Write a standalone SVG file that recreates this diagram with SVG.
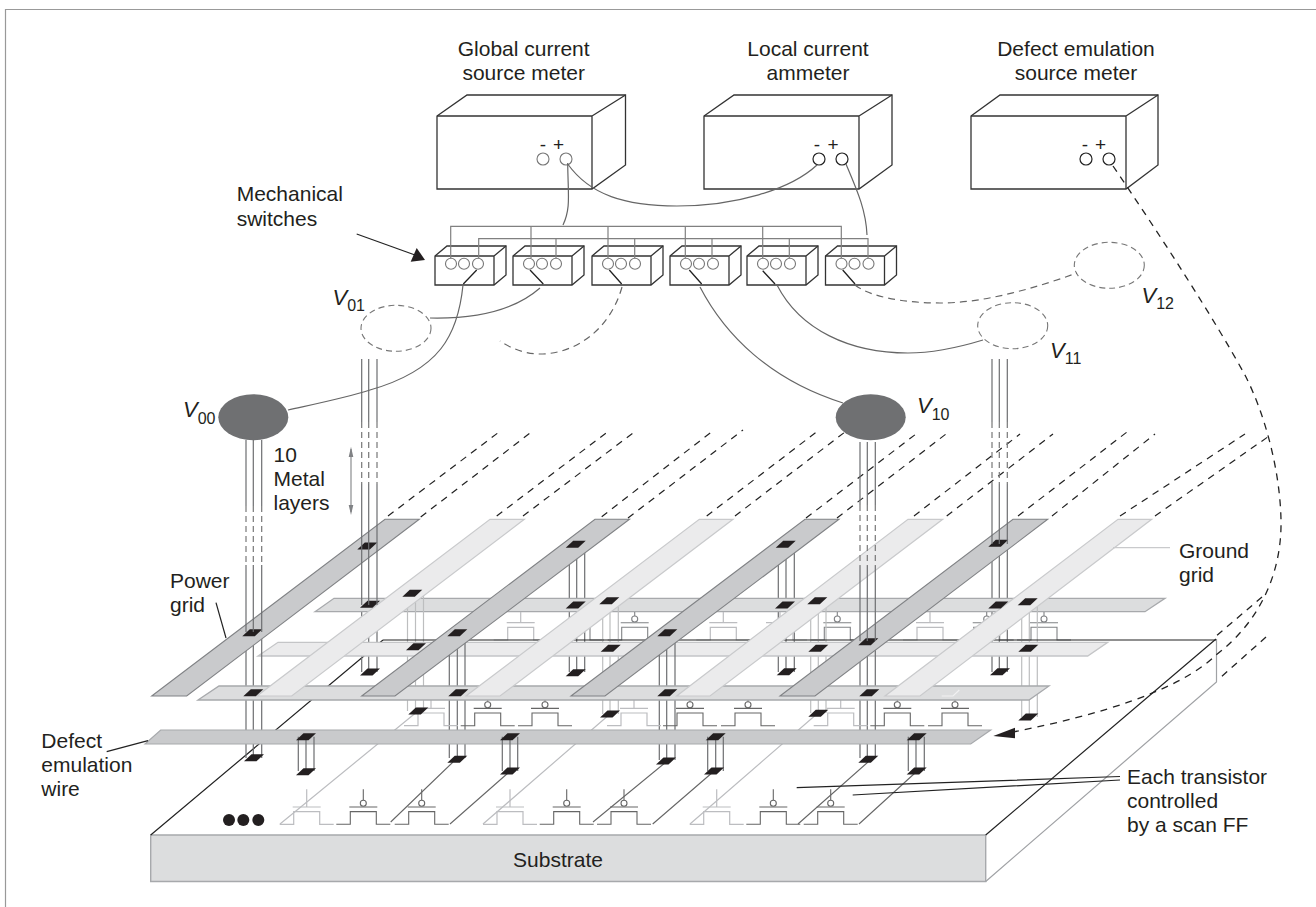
<svg xmlns="http://www.w3.org/2000/svg" xmlns:xlink="http://www.w3.org/1999/xlink" width="1316" height="907" viewBox="0 0 1316 907">
<style>
text{font-family:"Liberation Sans",Arial,sans-serif;font-size:21px;fill:#231f20}
.i{font-style:italic;font-size:22px}
.s{font-size:16px;font-style:normal}
.pm{text-anchor:middle}
.sg{font-size:19px;text-anchor:middle}
.box{fill:#fff;stroke:#333;stroke-width:1.3}
.ln{fill:none;stroke:#333;stroke-width:1.3}
.term{fill:none;stroke:#777;stroke-width:1.1}
.termk{fill:none;stroke:#222;stroke-width:1.2}
.wire{fill:none;stroke:#666;stroke-width:1.2}
.wd{fill:none;stroke:#666;stroke-width:1.2;stroke-dasharray:7 5}
.bus{fill:none;stroke:#808080;stroke-width:1.2}
.lev{fill:none;stroke:#222;stroke-width:1.3}
.via{fill:none;stroke:#6d6e71;stroke-width:1.2}
.vd{fill:none;stroke:#777;stroke-width:1.2;stroke-dasharray:6 4}
.gv{fill:none;stroke:#bdbebf;stroke-width:1.2}
.dg{fill:none;stroke:#222;stroke-width:1.2;stroke-dasharray:7 6}
.pw{fill:#c9cacc;stroke:#808285;stroke-width:1.1}
.gn{fill:#ebebec;stroke:#c9cacc;stroke-width:1.2}
.h1{fill:#dcddde;stroke:#a7a9ac;stroke-width:1.3}
.h2{fill:#ebebec;stroke:#c4c5c7;stroke-width:1.3}
.h4{fill:#c9cacc;stroke:#a7a9ac;stroke-width:1.2}
.vv{fill:#6f7072;stroke:none}
.vo{fill:none;stroke:#777;stroke-width:1.1;stroke-dasharray:6 4}
.D{fill:none;stroke:#666;stroke-width:1.1}
.M{fill:none;stroke:#808285;stroke-width:1.1}
.L{fill:none;stroke:#bcbdc0;stroke-width:1.2}
.k{fill:none;stroke:#222;stroke-width:1.2}
.t{fill:#fff}
</style>
<defs>
<path id="pad" d="M-10,3.5L-2.5,-3.5H10L2.5,3.5Z" fill="#231f20"/>
<g id="swb">
<path class="box" d="M0,0L12,-10H71V19L59,29H0Z"/>
<path class="ln" d="M0,0H59V29M59,0L71,-10"/>
<circle class="term" cx="16" cy="7.7" r="5.5"/>
<circle class="term" cx="29" cy="7.7" r="5.5"/>
<circle class="term" cx="43" cy="7.7" r="5.5"/>
</g>
<path id="body" d="M-27,0H-13V-12.7H13V0H27M-14,-17.3H14"/>
<g id="da"><use href="#body"/><path d="M0,-35V-24"/><circle class="t" cy="-21" r="3"/></g>
<g id="la"><use href="#body"/><path d="M0,-35V-17.3"/></g>
<g id="ds"><use href="#body"/><path d="M0,-28V-24"/><circle class="t" cy="-21" r="3"/></g>
<g id="ls"><use href="#body"/><path d="M0,-28V-17.3"/></g>
</defs>
<path id="frame" d="M5.5,907V9.5H1316" fill="none" stroke="#999" stroke-width="1.2"/>

<g id="substrate">
<path d="M150.7,835H985.7V881.5H150.7Z" fill="#dcddde" stroke="#a7a9ac" stroke-width="1.4"/>
<path d="M985.7,881.5L1216.5,682V639" fill="none" stroke="#a0a2a5" stroke-width="1.2"/>
<path class="k" d="M150.7,835L383,640M985.7,835L1216,639"/>
<text class="pm" x="558" y="867">Substrate</text>
</g>

<g id="transistors-front">
<g class="L"><path d="M280,824L418,711M483,824L610,714M690,824L818,713"/><use href="#la" x="306.7" y="824.3"/><use href="#la" x="510" y="824.3"/><use href="#la" x="716.7" y="824.3"/></g>
<g class="D"><path d="M390.7,822L453,762M450,824L508,773M593,822L666,762M652.7,824L713,772M798,824L868,762M859,824L915,773"/><use href="#da" x="363.3" y="824.3"/><use href="#da" x="421.7" y="824.3"/><use href="#da" x="566.7" y="824.3"/><use href="#da" x="624" y="824.3"/><use href="#da" x="773.3" y="824.3"/><use href="#da" x="830.7" y="824.3"/></g>
<g fill="#231f20"><circle cx="229" cy="820" r="6"/><circle cx="243.3" cy="820" r="6"/><circle cx="258.3" cy="820" r="6"/></g>
</g>

<g id="vias-lower">
<path class="via" d="M246,692V758M253.3,692V758M261.7,692V758M449.3,692V758M457.3,692V758M465,692V758M659.3,692V760M666.7,692V760M675,692V760M860,692V758M867.3,692V758M875.3,692V758"/>
<path class="via" d="M361.7,605V672M368.7,605V672M377,605V672M569.3,544V672M576.7,544V672M584.7,544V672M778.3,544V672M786,544V672M794.3,544V672M992,544V672M999.3,544V672M1007.3,544V672"/>
<g><use href="#pad" x="370" y="672"/><use href="#pad" x="575.7" y="672.7"/><use href="#pad" x="786.7" y="671.7"/><use href="#pad" x="1000" y="671.7"/>
<use href="#pad" x="254" y="757.7"/><use href="#pad" x="457.3" y="759.3"/><use href="#pad" x="666" y="761"/><use href="#pad" x="868.3" y="759.3"/></g>
</g>

<g id="grid-h1"><path class="h1" d="M315,611.7L334,598.3H1165L1145,611.7Z"/></g>

<g id="transistors-rear">
<g class="L"><use href="#ls" x="520.7" y="640"/><use href="#ls" x="723.3" y="640"/><use href="#ls" x="930" y="640"/><use href="#ls" x="780" y="640"/></g>
<g class="M"><use href="#ds" x="577" y="640"/><use href="#ds" x="634.7" y="640"/><use href="#ds" x="837.3" y="640"/><use href="#ds" x="986.7" y="640"/><use href="#ds" x="1044" y="640"/></g>
<path class="gv" d="M407.5,593V711M415.5,593V711M423.5,593V711M602.7,600V714M610,600V714M618.3,600V714M810.7,600V713M818.3,600V713M826,600V713M1021.7,601V717M1029.3,601V717M1037.3,601V717"/>
<path class="k" d="M383,640H1216"/>
</g>

<g id="grid-h2"><path class="h2" d="M258,656L278,642.3H1107.7L1087.7,656Z"/></g>

<g id="transistors-mid">
<g class="L"><use href="#ls" x="431" y="725.7"/><use href="#ls" x="634" y="725.7"/><use href="#ls" x="840.7" y="725.7"/></g>
<g class="D"><use href="#ds" x="487.7" y="725.7"/><use href="#ds" x="545" y="725.7"/><use href="#ds" x="690" y="725.7"/><use href="#ds" x="748" y="725.7"/><use href="#ds" x="897.3" y="725.7"/><use href="#ds" x="955" y="725.7"/></g>
<g><use href="#pad" x="418.3" y="711"/><use href="#pad" x="610" y="714"/><use href="#pad" x="818.3" y="713.3"/><use href="#pad" x="1028.3" y="717"/></g>
</g>

<g id="vias-mid">
<path class="via" d="M246,632V692M253.3,632V692M261.7,632V692M449.3,632V692M457.3,632V692M465,632V692M659.3,632V692M666.7,632V692M675,632V692M860,641V692M867.3,641V692M875.3,641V692"/>
</g>

<g id="grid-h3"><path class="h1" d="M198,700L219,686H1049L1029,700Z"/></g>

<g id="defect-wire">
<path class="h4" d="M145,744L160.7,730H990.7L970.7,744Z"/>
<path class="via" d="M298.3,736.7V771M306,736.7V771M314,736.7V771M502.3,736.7V771M510,736.7V771M517.7,736.7V771M707.7,736.7V771M715.7,736.7V771M723.3,736.7V771M908.3,736.7V771M916,736.7V771M924.3,736.7V771"/>
<g><use href="#pad" x="306" y="736.7"/><use href="#pad" x="306" y="771.7"/><use href="#pad" x="510" y="736.7"/><use href="#pad" x="510" y="771"/><use href="#pad" x="715.7" y="736.7"/><use href="#pad" x="714" y="771"/><use href="#pad" x="916.7" y="736.7"/><use href="#pad" x="916.7" y="771"/></g>
</g>

<g id="grid-diagonal">
<path class="pw" d="M385,519.3H419.3L186.7,696H151.7Z"/>
<path class="gn" d="M490,519.3H524.3L291.7,696H257Z"/>
<path class="pw" d="M595,519.3H629.5L395,696H361.7Z"/>
<path class="gn" d="M699.3,519.3H733L500,696H466Z"/>
<path class="pw" d="M805,519.3H839L605,696H571Z"/>
<path class="gn" d="M908,519.3H942.7L710,696H676.7Z"/>
<path class="pw" d="M1013,519.3H1047.7L815,696H780Z"/>
<path class="gn" d="M1118,519.3H1151.7L920,696H885Z"/>
<path d="M941.7,696H953L959.3,690" fill="none" stroke="#f1f1f2" stroke-width="1.2"/>
<path class="dg" d="M388,516L501.7,430M420.7,517L534,430M496.7,516L610,430M523,516L637,430M601.7,516.7L714,430M628,518L743,430M706.7,516L819,430M735,516L845,432M806,518L916,434M837,518L946,434M914,516L1020,434M946.7,516L1053,434M1018,516L1127,432M1052,516L1155,434M1120,516L1245,434M1155,516L1272,434"/>
</g>

<g id="pads">
<use href="#pad" x="367.3" y="546"/><use href="#pad" x="575.7" y="544.3"/><use href="#pad" x="785.7" y="544.3"/><use href="#pad" x="998.3" y="543.3"/>
<use href="#pad" x="252.3" y="632.7"/><use href="#pad" x="457.3" y="632.7"/><use href="#pad" x="667.3" y="632.7"/><use href="#pad" x="868.3" y="641.7"/>
<use href="#pad" x="253.3" y="692.7"/><use href="#pad" x="458.3" y="692.7"/><use href="#pad" x="667.3" y="692.7"/><use href="#pad" x="869.3" y="692.7"/>
<use href="#pad" x="370" y="604.3"/><use href="#pad" x="575.7" y="605"/><use href="#pad" x="785" y="605"/><use href="#pad" x="998.3" y="605"/>
<use href="#pad" x="412.3" y="593.3"/><use href="#pad" x="609.3" y="600.7"/><use href="#pad" x="817.3" y="600.7"/><use href="#pad" x="1027.7" y="601.7"/>
<use href="#pad" x="416" y="646.7"/><use href="#pad" x="610.7" y="648.3"/><use href="#pad" x="818.3" y="648.3"/><use href="#pad" x="1028.3" y="648.3"/>
</g>

<g id="vias-upper">
<path class="via" d="M246,440V506M253.3,440V506M261.7,440V506M246,565V632M253.3,565V632M261.7,565V632"/>
<path class="vd" d="M246,506V565M253.3,506V565M261.7,506V565"/>
<path class="via" d="M860,442V505M867.3,442V505M875.3,442V505M860,566V641M867.3,566V641M875.3,566V641"/>
<path class="vd" d="M860,505V566M867.3,505V566M875.3,505V566"/>
<path class="via" d="M361.7,359V422M368.7,359V422M377,359V422M361.7,484V605M368.7,484V605M377,484V605"/>
<path class="vd" d="M361.7,422V484M368.7,422V484M377,422V484"/>
<path class="via" d="M992,359V422M999.3,359V422M1007.3,359V422M992,484V544M999.3,484V544M1007.3,484V544"/>
<path class="vd" d="M992,422V484M999.3,422V484M1007.3,422V484"/>
</g>

<g id="meter-global"><path class="box" d="M437,116L467,95H625.5V165L592,189H437Z"/><path class="ln" d="M437,116H592V189M592,116L625.5,95"/><circle class="term" cx="543" cy="159" r="6"/><circle class="term" cx="566" cy="159" r="6"/><text class="sg" x="543" y="151">-</text><text class="sg" x="558.5" y="151">+</text><text class="pm" x="523.7" y="56">Global current</text><text class="pm" x="523.7" y="80">source meter</text></g>
<g id="meter-local"><path class="box" d="M704,116L734,95H892V165L859,189H704Z"/><path class="ln" d="M704,116H859V189M859,116L892,95"/><circle class="termk" cx="819" cy="159" r="6"/><circle class="termk" cx="842" cy="159" r="6"/><text class="sg" x="817" y="151">-</text><text class="sg" x="833" y="151">+</text><text class="pm" x="808" y="56">Local current</text><text class="pm" x="808" y="80">ammeter</text></g>
<g id="meter-defect"><path class="box" d="M971,116L1000,95H1158V165L1126,189H971Z"/><path class="ln" d="M971,116H1126V189M1126,116L1158,95"/><circle class="termk" cx="1086" cy="159" r="6"/><circle class="termk" cx="1109" cy="159" r="6"/><text class="sg" x="1085" y="151">-</text><text class="sg" x="1100.5" y="151">+</text><text class="pm" x="1076" y="56">Defect emulation</text><text class="pm" x="1076" y="80">source meter</text></g>

<g id="switch-1"><use href="#swb" x="435" y="256"/></g>
<g id="switch-2"><use href="#swb" x="513" y="256"/></g>
<g id="switch-3"><use href="#swb" x="592" y="256"/></g>
<g id="switch-4"><use href="#swb" x="670" y="256"/></g>
<g id="switch-5"><use href="#swb" x="747" y="256"/></g>
<g id="switch-6"><use href="#swb" x="825.5" y="256"/></g>

<g id="supply-v00"><ellipse class="vv" cx="253.3" cy="417.3" rx="35" ry="23"/><text class="i" x="183" y="417">V<tspan class="s" dy="7">00</tspan></text></g>
<g id="supply-v10"><ellipse class="vv" cx="870.7" cy="417.3" rx="35" ry="23"/><text class="i" x="917" y="413">V<tspan class="s" dy="7">10</tspan></text></g>
<g id="supply-v01"><ellipse class="vo" cx="396" cy="328.3" rx="35" ry="23"/><text class="i" x="332.5" y="305">V<tspan class="s" dy="6">01</tspan></text></g>
<g id="supply-v11"><ellipse class="vo" cx="1012.7" cy="325.7" rx="35" ry="23"/><text class="i" x="1050" y="358">V<tspan class="s" dy="6">11</tspan></text></g>
<g id="supply-v12"><ellipse class="vo" cx="1109.3" cy="265.3" rx="35" ry="23"/><text class="i" x="1141.5" y="302.7">V<tspan class="s" dy="6">12</tspan></text></g>

<g id="connectors">
<path class="bus" d="M450.7,258V226.3H841.3V258M531,226.3V258M608,226.3V258M685.3,226.3V258M762.7,226.3V258M478.7,258V238.7H868V258M556,238.7V258M634.7,238.7V258M712,238.7V258M789.3,238.7V258"/>
<path class="lev" d="M476.7,270L463.3,284M530,270L543.3,284M609.3,270L621.7,284M689.3,270L701.7,284M762.7,270.7L775,284M842.7,270L855,284"/>
<path class="wire" d="M567.7,163C568,195 571,208 563,225"/>
<path class="wire" d="M567.7,164C590,195 625,206 677,206C735,206 790,190 817,165"/>
<path class="wire" d="M846,164C857,190 866,210 867,235"/>
<path class="wire" d="M463,285C458,335 440,370 370,390C345,398 315,404 288,410"/>
<path class="wire" d="M540,288C515,310 475,319 430,318"/>
<path class="wd" d="M622,287C610,330 575,354 540,354C525,354 510,348 500,341"/>
<path class="wire" d="M700,287C725,335 770,380 843,403"/>
<path class="wire" d="M777,285C800,330 850,353 908,353C935,353 960,347 983,340"/>
<path class="wd" d="M855,285C870,297 905,303 940,303C985,303 1035,288 1077,273"/>
<path fill="none" stroke="#222" stroke-width="1.3" stroke-dasharray="7 6" d="M1113,166C1160,235 1215,320 1246,377C1265,415 1280,470 1281,520C1282,570 1262,620 1216,655C1180,690 1100,715 1013,732"/>
<path fill="none" stroke="#222" stroke-width="1.3" stroke-dasharray="7 6" d="M1262,597L1215,637M1266,637L1220,678"/>
<path d="M993.3,736L1015,727.7V738.3Z" fill="#231f20"/>
<path class="k" d="M356.7,234L415,255"/>
<path d="M425,260L416.7,248L410.7,261.7Z" fill="#231f20"/>
<path fill="none" stroke="#808285" stroke-width="1.1" d="M351,449V512"/>
<path d="M351,446.7L348.7,457H353.3ZM351,515L348.7,505H353.3Z" fill="#808285"/>
<path class="k" d="M216,602.7L226,638"/>
<path fill="none" stroke="#c9cacc" stroke-width="1.2" d="M1113,547.7H1170"/>
<path class="k" d="M106.7,751.7L148,740.7"/>
<path class="k" d="M796.7,787.7L1120,776.5M852.7,795L1120,780"/>
</g>

<g id="labels">
<text x="236.7" y="201">Mechanical</text><text x="236.7" y="225.7">switches</text>
<text x="273.5" y="461.7">10</text><text x="273.5" y="485.7">Metal</text><text x="273.5" y="510">layers</text>
<text x="170" y="588">Power</text><text x="170" y="612">grid</text>
<text x="1179" y="558.3">Ground</text><text x="1179" y="581.7">grid</text>
<text x="41.3" y="748.3">Defect</text><text x="41.3" y="772.3">emulation</text><text x="41.3" y="796">wire</text>
<text x="1127" y="784">Each transistor</text><text x="1127" y="808">controlled</text><text x="1127" y="832">by a scan FF</text>
</g>
</svg>
